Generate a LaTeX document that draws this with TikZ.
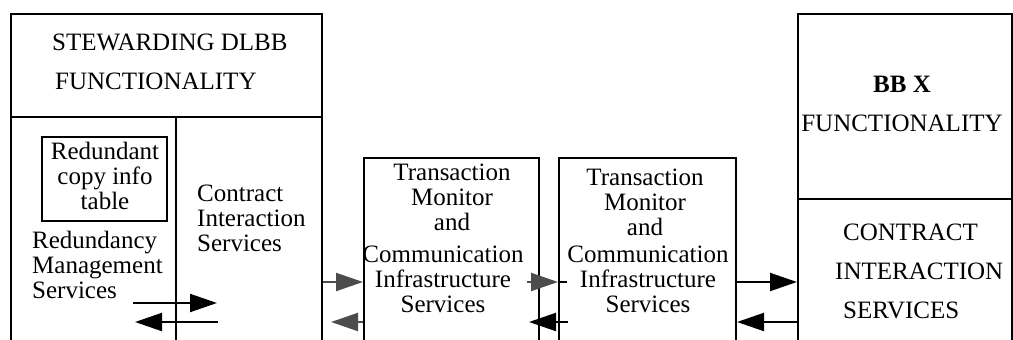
\documentclass[tikz,border=0pt]{standalone}
\usepackage{fontspec}
\setmainfont{Liberation Serif}
\usetikzlibrary{positioning}
\usetikzlibrary{calc}
\usetikzlibrary{arrows.meta}

\begin{document}
\begin{tikzpicture}[x=1pt, y=-1pt,
    block/.style={draw, line width=2pt, rectangle, anchor=north west, inner sep=0pt},
    label/.style={inner sep=0pt, font=\fontsize{25}{25}\selectfont},
    caps/.style={inner sep=0pt, font=\fontsize{25}{39}\selectfont},
    arrow/.style={-{Triangle[length=27pt,width=18pt]}, line width=2pt},
    greyarrow/.style={arrow, black!70},
]
\useasboundingbox (0,0) rectangle (1013,340);

\node[block, minimum width=311pt, minimum height=360pt] (stew) at (10,13) {};
\node[block, minimum width=175pt, minimum height=220pt] (tm1) at (363,157) {};
\node[block, minimum width=177pt, minimum height=220pt] (tm2) at (558,157) {};
\node[block, minimum width=214pt, minimum height=360pt] (bbx) at (797,13) {};
\node[block, line width=1.5pt, minimum width=125pt, minimum height=84pt] (copytab) at (41,136) {};

\coordinate (stewsplit) at (10,117);
\coordinate (servsplit) at (176,117);
\coordinate (bbxsplit) at (797,199);
\draw[line width=2pt] (stew.west |- stewsplit) -- (stew.east |- stewsplit);
\draw[line width=2pt] (servsplit) -- (servsplit |- stew.south);
\draw[line width=2pt] (bbx.west |- bbxsplit) -- (bbx.east |- bbxsplit);

% texts
\node[caps, align=left, anchor=west] (stewtext) at (52,62) {STEWARDING DLBB\\\hspace*{3pt}FUNCTIONALITY};
\node[label, align=center] (copytext) at (105,176) {Redundant\\copy info\\table};
\node[label, align=left, anchor=west] (rmstext) at (32,265) {Redundancy\\Management\\Services};
\node[label, align=left, anchor=west] (cistext) at (197,218) {Contract\\Interaction\\Services};
\node[label, align=center] (tm1top) at (452,197) {Transaction\\Monitor\\and};
\node[label, align=center] (tm1bot) at (443,279) {Communication\\Infrastructure\\Services};
\node[label, align=center] (tm2top) at (645,202) {Transaction\\Monitor\\and};
\node[label, align=center] (tm2bot) at (648,279) {Communication\\Infrastructure\\Services};
\node[caps, align=center] (bbxtext) at (902,104) {\textbf{BB X}\\FUNCTIONALITY};
\node[caps, align=left, anchor=west] (bbxcis) at (843,271) {CONTRACT\\\hspace*{-8pt}INTERACTION\\SERVICES};

% arrows
\coordinate (upper) at (0,282);
\coordinate (lower) at (0,322);
\coordinate (rmsup) at (0,303);
\draw[arrow] ($(servsplit |- rmsup)+(-43,0)$) -- ($(servsplit |- rmsup)+(41,0)$);
\draw[arrow] ($(servsplit |- lower)+(42,0)$) -- ($(servsplit |- lower)+(-41,0)$);
\draw[greyarrow] (stew.east |- upper) -- (tm1.west |- upper);
\draw[greyarrow] (tm1.west |- lower) -- ($(stew.east |- lower)+(8,0)$);
\draw[greyarrow] ($(tm1.east |- upper)+(-13,0)$) -- (tm2.west |- upper);
\draw[line width=2pt] (tm2.west |- upper) -- ++(9,0);
\draw[arrow] ($(tm2.west |- lower)+(10,0)$) -- ($(tm1.east |- lower)+(-11,0)$);
\draw[arrow] (tm2.east |- upper) -- (bbx.west |- upper);
\draw[arrow] (bbx.west |- lower) -- (tm2.east |- lower);
\end{tikzpicture}
\end{document}
